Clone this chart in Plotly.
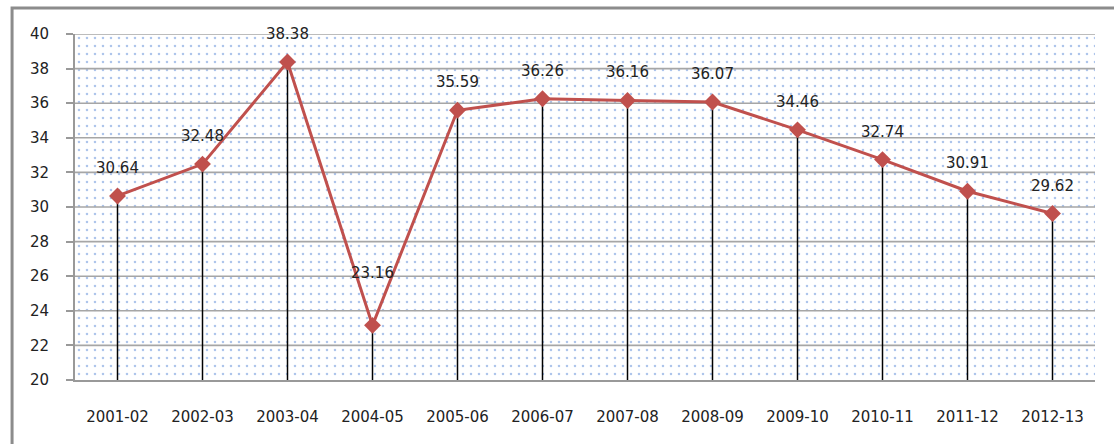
import plotly.graph_objects as go

# Year-wise series
years = ["2001-02", "2002-03", "2003-04", "2004-05", "2005-06", "2006-07",
         "2007-08", "2008-09", "2009-10", "2010-11", "2011-12", "2012-13"]
values = [30.64, 32.48, 38.38, 23.16, 35.59, 36.26,
          36.16, 36.07, 34.46, 32.74, 30.91, 29.62]

y_min, y_max = 20, 40
y_ticks = list(range(20, 41, 2))

FONT = "DejaVu Sans"
RED = "#C0504D"

xs = list(range(len(years)))
x_lo, x_hi = -0.5, len(years) - 0.5

fig = go.Figure()

# dotted plot-area background
fig.add_trace(go.Scatter(
    x=[x_lo, x_hi, x_hi, x_lo, x_lo],
    y=[y_min, y_min, y_max, y_max, y_min],
    mode="lines", line=dict(width=0), fill="toself",
    fillcolor="rgba(255,255,255,0)",
    fillpattern=dict(shape=".", fgcolor="#5b8ad6", bgcolor="white",
                     size=8, solidity=0.08),
    hoverinfo="skip", showlegend=False,
))

# horizontal gridlines on top of the dotted fill
grid_x, grid_y = [], []
for t in y_ticks[1:]:
    grid_x += [x_lo, x_hi, None]
    grid_y += [t, t, None]
fig.add_trace(go.Scatter(
    x=grid_x, y=grid_y, mode="lines",
    line=dict(color="#a6a6a6", width=1.6),
    hoverinfo="skip", showlegend=False,
))

# vertical drop lines from each point to the baseline
drop_x, drop_y = [], []
for x, v in zip(xs, values):
    drop_x += [x, x, None]
    drop_y += [y_min, v, None]
fig.add_trace(go.Scatter(
    x=drop_x, y=drop_y, mode="lines",
    line=dict(color="black", width=1.5),
    hoverinfo="skip", showlegend=False,
))

# main series
fig.add_trace(go.Scatter(
    x=xs, y=values, mode="lines+markers",
    line=dict(color=RED, width=3),
    marker=dict(symbol="diamond", size=13, color=RED),
    showlegend=False,
))

# value labels
label_shift = {3: 52}
for i, v in enumerate(values):
    fig.add_annotation(
        x=i, y=v, text=f"{v:.2f}", showarrow=False,
        yshift=label_shift.get(i, 28), yanchor="middle",
        font=dict(family=FONT, size=15, color="#222222"),
    )

fig.update_xaxes(
    range=[x_lo, x_hi],
    tickmode="array", tickvals=xs, ticktext=years,
    showgrid=False, zeroline=False,
    showline=True, linecolor="#999999", linewidth=2,
    ticks="", ticklabelstandoff=22,
    tickfont=dict(family=FONT, size=15, color="#222222"),
)
fig.update_yaxes(
    range=[y_min, y_max], tickmode="array", tickvals=y_ticks,
    showgrid=False, zeroline=False,
    showline=True, linecolor="#999999", linewidth=2,
    ticks="outside", ticklen=7, tickcolor="#999999", tickwidth=2,
    ticklabelstandoff=14,
    tickfont=dict(family=FONT, size=15, color="#222222"),
)

# outer chart frame
fig.add_shape(type="rect", xref="paper", yref="paper",
              x0=-0.0617, x1=1.05, y0=-0.3, y1=1.075,
              line=dict(color="#8c8c8c", width=3), layer="below")

fig.update_layout(
    width=1114, height=444,
    margin=dict(l=75, r=19, t=34, b=64),
    paper_bgcolor="white", plot_bgcolor="white",
    font=dict(family=FONT),
)

fig.write_html("out.html")
